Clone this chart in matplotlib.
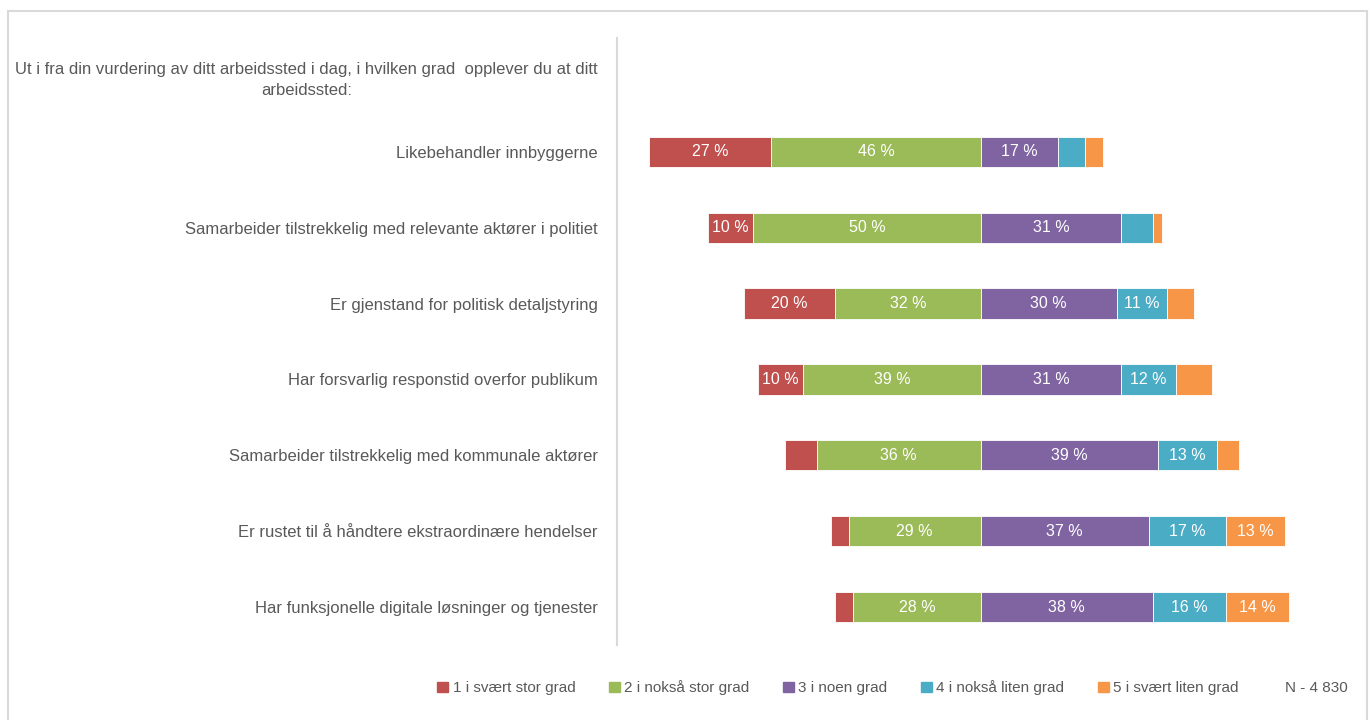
import matplotlib.pyplot as plt
from matplotlib.patches import Rectangle
import numpy as np

plt.rcParams['font.family'] = ['Liberation Sans Narrow', 'Liberation Sans', 'DejaVu Sans']

question = 'Ut i fra din vurdering av ditt arbeidssted i dag, i hvilken grad  opplever du at ditt\narbeidssted:'
statements = [
    'Likebehandler innbyggerne',
    'Samarbeider tilstrekkelig med relevante aktører i politiet',
    'Er gjenstand for politisk detaljstyring',
    'Har forsvarlig responstid overfor publikum',
    'Samarbeider tilstrekkelig med kommunale aktører',
    'Er rustet til å håndtere ekstraordinære hendelser',
    'Har funksjonelle digitale løsninger og tjenester',
]
grades = ['1 i svært stor grad', '2 i nokså stor grad', '3 i noen grad',
          '4 i nokså liten grad', '5 i svært liten grad']
colors = ['#C0504D', '#9BBB59', '#8064A2', '#4BACC6', '#F79646']

# prosent per svaralternativ (1..5) for hver påstand
g1 = [27, 10, 20, 10, 7, 4, 4]
g2 = [46, 50, 32, 39, 36, 29, 28]
g3 = [17, 31, 30, 31, 39, 37, 38]
g4 = [6, 7, 11, 12, 13, 17, 16]
g5 = [4, 2, 6, 8, 5, 13, 14]
n_text = 'N - 4 830'

data = np.array([g1, g2, g3, g4, g5]).T
grey = '#595959'

fig = plt.figure(figsize=(13.7, 7.2), dpi=100)
fig.patches.append(Rectangle((0.006, -0.01), 0.992, 0.995, transform=fig.transFigure,
                             fill=False, edgecolor='#D9D9D9', linewidth=1.5))
ax = fig.add_axes([617 / 1370, 1 - 645 / 720, (1344 - 617) / 1370, (645 - 38) / 720])

labels = [question] + statements
ypos = np.arange(len(labels))
for i, row in enumerate(data):
    y = i + 1
    # divergerende: skille mellom 2 og 3 ligger på null
    left = -(row[0] + row[1])
    for j, v in enumerate(row):
        ax.barh(y, v, left=left, height=0.4, color=colors[j],
                edgecolor='white', linewidth=0.6)
        if v >= 10:
            ax.text(left + v / 2, y, f'{v} %', ha='center', va='center',
                    color='white', fontsize=11.5)
        left += v

ax.set_ylim(len(labels) - 0.5, -0.5)
ax.set_xlim(-80, 80)
ax.set_yticks(ypos)
ax.set_yticklabels(labels, fontsize=12, color=grey, multialignment='center',
                   linespacing=1.45)
ax.tick_params(axis='y', length=0, pad=14)
ax.set_xticks([])
for s in ['top', 'right', 'bottom']:
    ax.spines[s].set_visible(False)
ax.spines['left'].set_color('#D9D9D9')
ax.spines['left'].set_linewidth(1.5)

handles = [Rectangle((0, 0), 1, 1, color=c) for c in colors]
leg = fig.legend(handles, grades, loc='center', bbox_to_anchor=(838 / 1370, 1 - 688 / 720),
                 ncol=5, frameon=False, fontsize=11, handlelength=0.7, handleheight=0.7,
                 handletextpad=0.3, columnspacing=2.2)
for t in leg.get_texts():
    t.set_color(grey)
fig.text(1316 / 1370, 1 - 688 / 720, n_text, ha='center', va='center', fontsize=11, color=grey)

plt.savefig('out.png', dpi=100)
